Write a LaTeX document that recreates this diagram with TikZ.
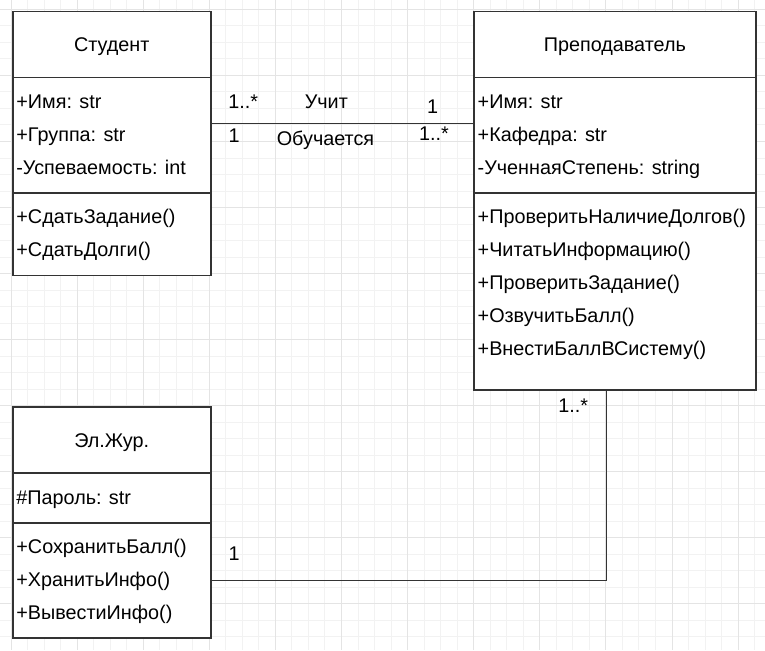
\documentclass[tikz,border=0pt]{standalone}
\usepackage{fontspec}
\setmainfont{Liberation Sans}
\usetikzlibrary{positioning}

\definecolor{gridminor}{HTML}{F2F2F2}
\definecolor{gridmajor}{HTML}{E4E4E4}
\definecolor{umlline}{HTML}{333333}

\begin{document}
\begin{tikzpicture}[
	x=1pt, y=-1pt,
	font=\fontsize{19.8}{23}\selectfont,
	box/.style={rectangle, draw=umlline, fill=white, line width=1.65pt, inner sep=0pt, outer sep=0pt},
	head/.style={box, text height=14.2pt, text depth=0pt, minimum height=66pt},
	part/.style={box, below=0pt of #1},
	item/.style={anchor=base west, inner sep=0pt},
	mult/.style={inner sep=0pt, text height=14.2pt, text depth=0pt},
	assoc/.style={draw=umlline, line width=1.65pt}
]
\useasboundingbox (0,0) rectangle (765,650);
\fill[white] (0,0) rectangle (765,650);

% background grid
\foreach \k in {0,...,45} \draw[gridminor, line width=1pt] ({11+16.525*\k},0) -- ({11+16.525*\k},650);
\foreach \k in {0,...,38} \draw[gridminor, line width=1pt] (0,{9.5+16.5*\k}) -- (765,{9.5+16.5*\k});
\foreach \k in {0,...,11} \draw[gridmajor, line width=1pt] ({11+66.1*\k},0) -- ({11+66.1*\k},650);
\foreach \k in {0,...,9} \draw[gridmajor, line width=1pt] (0,{9.5+66*\k}) -- (765,{9.5+66*\k});

% Студент
\node[head, minimum width=198pt] (stud) at (111.7,44.5) {Студент};
\node[part=stud, minimum width=198pt, minimum height=115.5pt] (studA) {};
\node[part=studA, minimum width=198pt, minimum height=82.5pt] (studM) {};
\node[item] (studA1) at ([xshift=3.5pt, yshift=-30.7pt]studA.north west) {+Имя: str};
\node[item] (studA2) at ([yshift=-33pt]studA1.base west) {+Группа: str};
\node[item] (studA3) at ([yshift=-33pt]studA2.base west) {-Успеваемость: int};
\node[item] (studM1) at ([xshift=3.5pt, yshift=-30.7pt]studM.north west) {+СдатьЗадание()};
\node[item] (studM2) at ([yshift=-33pt]studM1.base west) {+СдатьДолги()};

% Преподаватель
\node[head, minimum width=281.7pt] (teach) at (614.85,44.5) {Преподаватель};
\node[part=teach, minimum width=281.7pt, minimum height=115.5pt] (teachA) {};
\node[part=teachA, minimum width=281.7pt, minimum height=197pt] (teachM) {};
\node[item] (teachA1) at ([xshift=3.5pt, yshift=-30.7pt]teachA.north west) {+Имя: str};
\node[item] (teachA2) at ([yshift=-33pt]teachA1.base west) {+Кафедра: str};
\node[item] (teachA3) at ([yshift=-33pt]teachA2.base west) {-УченнаяСтепень: string};
\node[item] (teachM1) at ([xshift=3.5pt, yshift=-30.7pt]teachM.north west) {+ПроверитьНаличиеДолгов()};
\node[item] (teachM2) at ([yshift=-33pt]teachM1.base west) {+ЧитатьИнформацию()};
\node[item] (teachM3) at ([yshift=-33pt]teachM2.base west) {+ПроверитьЗадание()};
\node[item] (teachM4) at ([yshift=-33pt]teachM3.base west) {+ОзвучитьБалл()};
\node[item] (teachM5) at ([yshift=-33pt]teachM4.base west) {+ВнестиБаллВСистему()};

% Эл.Жур.
\node[head, minimum width=198pt] (journ) at (111.7,440.3) {Эл.Жур.};
\node[part=journ, minimum width=198pt, minimum height=49.5pt] (journA) {};
\node[part=journA, minimum width=198pt, minimum height=115.5pt] (journM) {};
\node[item] (journA1) at ([xshift=3.5pt, yshift=-30.7pt]journA.north west) {\#Пароль: str};
\node[item] (journM1) at ([xshift=3.5pt, yshift=-30.7pt]journM.north west) {+СохранитьБалл()};
\node[item] (journM2) at ([yshift=-33pt]journM1.base west) {+ХранитьИнфо()};
\node[item] (journM3) at ([yshift=-33pt]journM2.base west) {+ВывестиИнфо()};

% associations
\draw[assoc] ([yshift=11.7pt]studA.east) -- ([yshift=11.7pt]teachA.west);
\draw[assoc] (journM.east) -| ([xshift=-8.2pt]teachM.south);

% multiplicities and roles
\node[mult] (m1) at (243.3,101.7) {1..*};
\node[mult] (r1) at (326.3,101.7) {Учит};
\node[mult] (m2) at (432.5,106.7) {1};
\node[mult] (m3) at (234.2,135) {1};
\node[mult] (r2) at (325.5,138.3) {Обучается};
\node[mult] (m4) at (434,133.3) {1..*};
\node[mult] (m5) at (234.2,553.7) {1};
\node[mult] (m6) at (573.3,405.5) {1..*};
\end{tikzpicture}
\end{document}
